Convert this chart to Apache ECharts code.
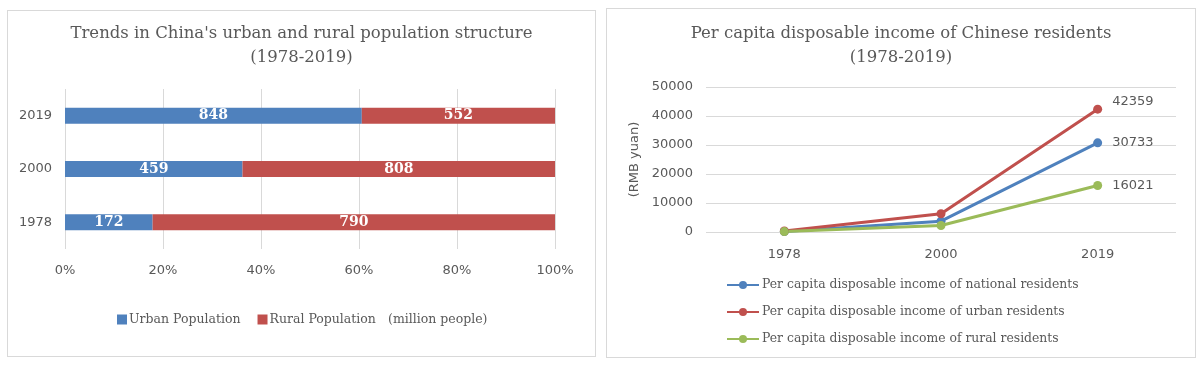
<!DOCTYPE html>
<html><head><meta charset="utf-8">
<script src="https://cdn.jsdelivr.net/npm/echarts@6/dist/echarts.min.js"></script>
<style>
html,body{margin:0;padding:0;background:#fff;width:1200px;height:365px;overflow:hidden;}
#c1{position:absolute;left:7px;top:10px;width:589px;height:347px;box-sizing:border-box;border:1px solid #d9d9d9;}
#c2{position:absolute;left:606px;top:8px;width:590px;height:350px;box-sizing:border-box;border:1px solid #d9d9d9;}
</style></head><body>
<div id="c1"></div><div id="c2"></div>
<script>
// Left chart data
const popYears = ['1978', '2000', '2019'];
const urbanPop = [172, 459, 848];
const ruralPop = [790, 808, 552];
// Right chart data
const incomeYears = ['1978', '2000', '2019'];
const nationalIncome = [171, 3721, 30733];
const urbanIncome = [343, 6280, 42359];
const ruralIncome = [134, 2253, 16021];

const serif = '"DejaVu Serif", serif';
const sans = '"DejaVu Sans", sans-serif';
const txt = '#595959';
const blue = '#4f81bd', red = '#c0504d', green = '#9bbb59';

const urbanShare = urbanPop.map((u, i) => u / (u + ruralPop[i]) * 100);
const ruralShare = ruralPop.map((r, i) => r / (urbanPop[i] + r) * 100);

const c1 = echarts.init(document.getElementById('c1'));
c1.setOption({
  animation: false,
  title: {
    text: "Trends in China's urban and rural population structure\n(1978-2019)",
    left: 'center', top: 6,
    textStyle: {fontFamily: serif, fontSize: 16.5, fontWeight: 'normal', color: txt, lineHeight: 24}
  },
  grid: {left: 57, right: 40, top: 78, bottom: 107},
  xAxis: {
    type: 'value', min: 0, max: 100, interval: 20,
    axisLine: {show: false}, axisTick: {show: false},
    axisLabel: {formatter: '{value}%', fontFamily: sans, fontSize: 13, color: txt, margin: 15},
    splitLine: {lineStyle: {color: '#d9d9d9'}}
  },
  yAxis: {
    type: 'category', data: popYears,
    axisLine: {show: false}, axisTick: {show: false},
    axisLabel: {fontFamily: sans, fontSize: 13, color: txt, margin: 13}
  },
  legend: {
    top: 297, left: 104, itemWidth: 10, itemHeight: 10, itemGap: 17,
    icon: 'rect',
    textStyle: {fontFamily: serif, fontSize: 12.5, color: txt, padding: [0, 0, 0, -3]},
    data: ['Urban Population', 'Rural Population']
  },
  graphic: [{
    type: 'text', left: 380, top: 302,
    style: {text: '(million people)', font: '12.5px ' + serif, fill: txt}
  }],
  series: [
    {name: 'Urban Population', type: 'bar', stack: 'p', barWidth: 16,
     data: urbanShare, itemStyle: {color: blue},
     label: {show: true, position: 'inside', color: '#fff', fontFamily: serif, fontWeight: 'bold', fontSize: 14,
       formatter: p => urbanPop[p.dataIndex]}},
    {name: 'Rural Population', type: 'bar', stack: 'p', barWidth: 16,
     data: ruralShare, itemStyle: {color: red},
     label: {show: true, position: 'inside', color: '#fff', fontFamily: serif, fontWeight: 'bold', fontSize: 14,
       formatter: p => ruralPop[p.dataIndex]}}
  ]
});

const lastLabel = (dy) => ({
  show: true, position: 'right', distance: 10, offset: [0, dy],
  fontFamily: sans, fontSize: 13, color: txt,
  formatter: p => p.dataIndex === incomeYears.length - 1 ? String(p.value) : ''
});
const c2 = echarts.init(document.getElementById('c2'));
c2.setOption({
  animation: false,
  title: {
    text: "Per capita disposable income of Chinese residents\n(1978-2019)",
    left: 'center', top: 8,
    textStyle: {fontFamily: serif, fontSize: 16.5, fontWeight: 'normal', color: txt, lineHeight: 24}
  },
  grid: {left: 99, right: 19, top: 78, bottom: 125},
  xAxis: {
    type: 'category', data: incomeYears, boundaryGap: true,
    axisLine: {show: false}, axisTick: {show: false},
    axisLabel: {fontFamily: sans, fontSize: 13, color: txt, margin: 16}
  },
  yAxis: {
    type: 'value', min: 0, max: 50000, interval: 10000,
    name: '(RMB yuan)', nameLocation: 'middle', nameGap: 62, nameRotate: 90,
    nameTextStyle: {fontFamily: sans, fontSize: 13, color: txt},
    axisLine: {show: false}, axisTick: {show: false},
    axisLabel: {fontFamily: sans, fontSize: 13, color: txt, margin: 13, formatter: v => String(v)},
    splitLine: {lineStyle: {color: '#d9d9d9'}}
  },
  legend: {
    orient: 'vertical', left: 114, top: 265, itemWidth: 32, itemHeight: 10, itemGap: 15,
    textStyle: {fontFamily: serif, fontSize: 12.4, color: txt, padding: [0, 0, 0, -2]}
  },
  series: [
    {name: 'Per capita disposable income of national residents', type: 'line', data: nationalIncome,
     color: blue, symbol: 'circle', symbolSize: 9, lineStyle: {width: 3}, label: lastLabel(0)},
    {name: 'Per capita disposable income of urban residents', type: 'line', data: urbanIncome,
     color: red, symbol: 'circle', symbolSize: 9, lineStyle: {width: 3}, label: lastLabel(-8)},
    {name: 'Per capita disposable income of rural residents', type: 'line', data: ruralIncome,
     color: green, symbol: 'circle', symbolSize: 9, lineStyle: {width: 3}, label: lastLabel(0)}
  ]
});
</script>
</body></html>
